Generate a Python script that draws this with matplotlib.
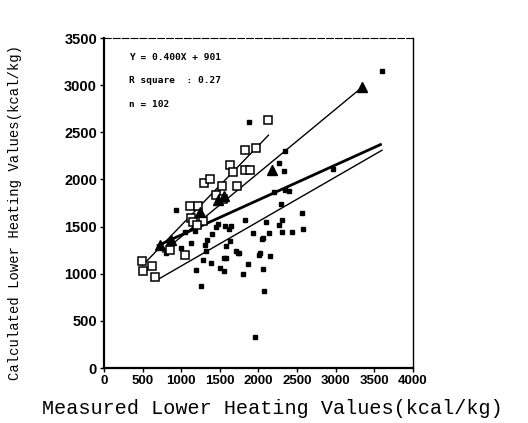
import numpy as np
import matplotlib
matplotlib.use("Agg")
import matplotlib.pyplot as plt

# open squares
sq_x = [490, 500, 620, 660, 850, 1045, 1110, 1215, 1130, 1150, 1280, 1200, 1300,
        1370, 1445, 1530, 1720, 1540, 1635, 1665, 1820, 1890, 1830, 1965, 2120]
sq_y = [1140, 1030, 1080, 970, 1250, 1195, 1715, 1715, 1590, 1545, 1555, 1520, 1965,
        2010, 1830, 1935, 1935, 1790, 2150, 2080, 2105, 2105, 2310, 2335, 2630]

# filled triangles
tri_x = [720, 870, 1240, 1480, 1560, 2180, 3345]
tri_y = [1310, 1360, 1650, 1780, 1820, 2100, 2980]

# small filled markers
pt_x = [930, 1175, 1335, 1580, 1575, 1390, 1500, 1195, 1260, 1710, 1560, 1560, 1325,
        1280, 1820, 2100, 2305, 1925, 2140, 2305, 2435, 2580, 2045, 1745, 2020, 2150,
        1860, 2055, 1795, 2075, 1960, 2290, 2565, 1875, 2270, 2335, 2195, 2350, 2400,
        2350, 2965, 3605, 1561, 1626, 2056, 2271, 1733, 2013, 1450, 1480, 1620, 1650,
        1400, 1310, 1130, 1000, 800, 1050]
pt_y = [1675, 1455, 1360, 1290, 1170, 1115, 1060, 1040, 875, 1240, 1025, 1165, 1240,
        1150, 1565, 1545, 1565, 1435, 1435, 1440, 1440, 1475, 1370, 1225, 1225, 1190,
        1105, 1050, 1000, 820, 330, 1745, 1645, 2605, 2175, 2095, 1870, 1890, 1875,
        2300, 2115, 3150, 1503, 1344, 1380, 1521, 1223, 1202, 1500, 1530, 1470, 1510,
        1420, 1300, 1330, 1270, 1220, 1440]

# fitted lines (end points)
line_sq_x, line_sq_y = [500, 2130], [1090, 2470]
line_tri_x, line_tri_y = [760, 3345], [1230, 2980]
line_all_x, line_all_y = [700, 3580], [1300, 2370]
line_pt_x, line_pt_y = [720, 3600], [950, 2310]

fit_text = ["Y = 0.400X + 901", "R square  : 0.27", "n = 102"]

fig = plt.figure(figsize=(5.28, 4.23), dpi=100)
ax = fig.add_axes([0.197, 0.130, 0.585, 0.780])

ax.plot(line_sq_x, line_sq_y, color="black", lw=1.0)
ax.plot(line_tri_x, line_tri_y, color="black", lw=1.0)
ax.plot(line_all_x, line_all_y, color="black", lw=2.0)
ax.plot(line_pt_x, line_pt_y, color="black", lw=1.0)

ax.plot(pt_x, pt_y, "s", color="black", ms=3.2, ls="none")
ax.plot(sq_x, sq_y, "s", mfc="white", mec="black", mew=1.1, ms=5.3, ls="none")
ax.plot(tri_x, tri_y, "^", color="black", ms=6.5, ls="none")

for i, t in enumerate(fit_text):
    ax.text(320, 3290 - i * 245, t, fontsize=6.8, fontweight="bold",
            family="DejaVu Sans Mono", va="center")

ax.set_xlim(0, 4000)
ax.set_ylim(0, 3500)
ax.set_xticks(np.arange(0, 4001, 500))
ax.set_yticks(np.arange(0, 3501, 500))
for lab in ax.get_xticklabels():
    lab.set_fontsize(9.5)
    lab.set_fontweight("bold")
    lab.set_family("Liberation Sans")
for lab in ax.get_yticklabels():
    lab.set_fontsize(10.5)
    lab.set_fontweight("bold")
    lab.set_family("Liberation Sans")
ax.tick_params(direction="out", length=3, width=1, pad=2)

ax.spines["left"].set_linewidth(1.6)
ax.spines["bottom"].set_linewidth(1.6)
ax.spines["top"].set_linewidth(0.8)
ax.spines["top"].set_linestyle((0, (6, 2)))
ax.spines["right"].set_linewidth(1.0)

ax.set_xlabel("Measured Lower Heating Values(kcal/kg)", fontsize=14.5,
              family="Liberation Mono")
ax.xaxis.set_label_coords(0.545, -0.095)
ax.set_ylabel("Calculated Lower Heating Values(kcal/kg)", fontsize=10,
              family="Liberation Mono")
ax.yaxis.set_label_coords(-0.265, 0.47)

fig.savefig("out.png", dpi=100)
